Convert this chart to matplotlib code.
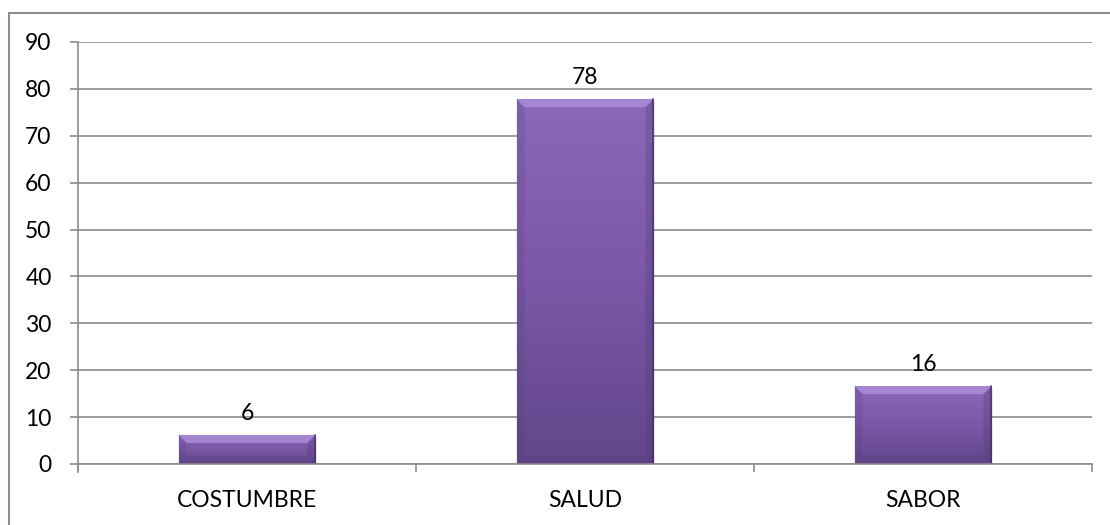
import numpy as np
import matplotlib.pyplot as plt
from matplotlib.patches import Rectangle, Polygon
from matplotlib.colors import LinearSegmentedColormap

categories = ["COSTUMBRE", "SALUD", "SABOR"]
heights = [6.2, 77.8, 16.6]
labels = ["6", "78", "16"]
yticks = list(range(0, 100, 10))

plt.rcParams["font.family"] = ["Lato", "DejaVu Sans"]

fig = plt.figure(figsize=(11.1, 5.25), dpi=100)
ax = fig.add_axes([78 / 1110, 61 / 525, 1014 / 1110, 422 / 525])

# outer chart border (clipped on right/bottom like the source)
fig.patches.append(Rectangle((9 / 1110, -0.05), 1.2, (525 - 13) / 525 + 0.05,
                             transform=fig.transFigure, fill=False,
                             edgecolor="#8c8c8c", linewidth=1.5))

x = np.arange(len(categories))
ax.set_xlim(-0.5, len(categories) - 0.5)
ax.set_ylim(0, 90)

grid_c = "#8c8c8c"
ax.set_yticks(yticks)
ax.yaxis.grid(True, color=grid_c, linewidth=1.2)
ax.set_axisbelow(True)
for s in ["top", "right"]:
    ax.spines[s].set_visible(False)
ax.spines["left"].set_color(grid_c)
ax.spines["bottom"].set_color(grid_c)
ax.spines["left"].set_linewidth(1.2)
ax.spines["bottom"].set_linewidth(1.2)
ax.spines["left"].set_bounds(-1.8, 90)

ax.set_xticks(x)
ax.set_xticklabels(categories)
ax.set_xticks(np.arange(-0.5, len(categories)), minor=True)
ax.tick_params(axis="x", which="major", length=0, pad=19, labelsize=16.5)
ax.tick_params(axis="x", which="minor", length=6, color=grid_c, width=1.2)
ax.tick_params(axis="y", length=6, color=grid_c, width=1.2, pad=13, labelsize=16.5)

cmap = LinearSegmentedColormap.from_list("purp", ["#62468a", "#7a58a6", "#8b69ba"])
grad = np.linspace(0, 1, 256).reshape(-1, 1)

bars = ax.bar(x, heights, width=0.405, color="#7a58a6", edgecolor="none", zorder=2)

# pixel to data conversions for the bevel
px_x = 1.0 / (1014 / 3)
px_y = 90.0 / 422
bev = 8

for b, lab in zip(bars, labels):
    x0, w, h = b.get_x(), b.get_width(), b.get_height()
    x1 = x0 + w
    # soft drop shadow
    ax.add_patch(Rectangle((x0 + 1 * px_x, -2.5 * px_y), w + 1 * px_x, h, color="#000000",
                           alpha=0.10, zorder=1.5, linewidth=0))
    im = ax.imshow(grad, cmap=cmap, extent=(x0, x1, 0, h), origin="lower",
                   aspect="auto", zorder=2.1)
    im.set_clip_path(b)
    bx, by = bev * px_x, bev * px_y
    # top bevel (light)
    ax.add_patch(Polygon([(x0, h), (x1, h), (x1 - bx, h - by), (x0 + bx, h - by)],
                         closed=True, color="#ad90d8", alpha=0.8, zorder=2.2, linewidth=0))
    # left / right bevels (dark)
    ax.add_patch(Polygon([(x0, h), (x0 + bx, h - by), (x0 + bx, by), (x0, 0)],
                         closed=True, color="#4e3773", alpha=0.18, zorder=2.2, linewidth=0))
    ax.add_patch(Polygon([(x1, h), (x1 - bx, h - by), (x1 - bx, by), (x1, 0)],
                         closed=True, color="#4e3773", alpha=0.28, zorder=2.2, linewidth=0))
    # bottom bevel
    ax.add_patch(Polygon([(x0, 0), (x1, 0), (x1 - bx, by), (x0 + bx, by)],
                         closed=True, color="#4e3773", alpha=0.15, zorder=2.2, linewidth=0))
    # thin dark outline on the right edge
    ax.plot([x1, x1], [0, h], color="#3d2a5a", linewidth=1.2, alpha=0.7, zorder=2.3)
    ax.annotate(lab, (b.get_x() + w / 2, h), xytext=(0, 8), textcoords="offset points",
                ha="center", va="bottom", fontsize=16.5, color="black")

fig.savefig("out.png", dpi=100)
